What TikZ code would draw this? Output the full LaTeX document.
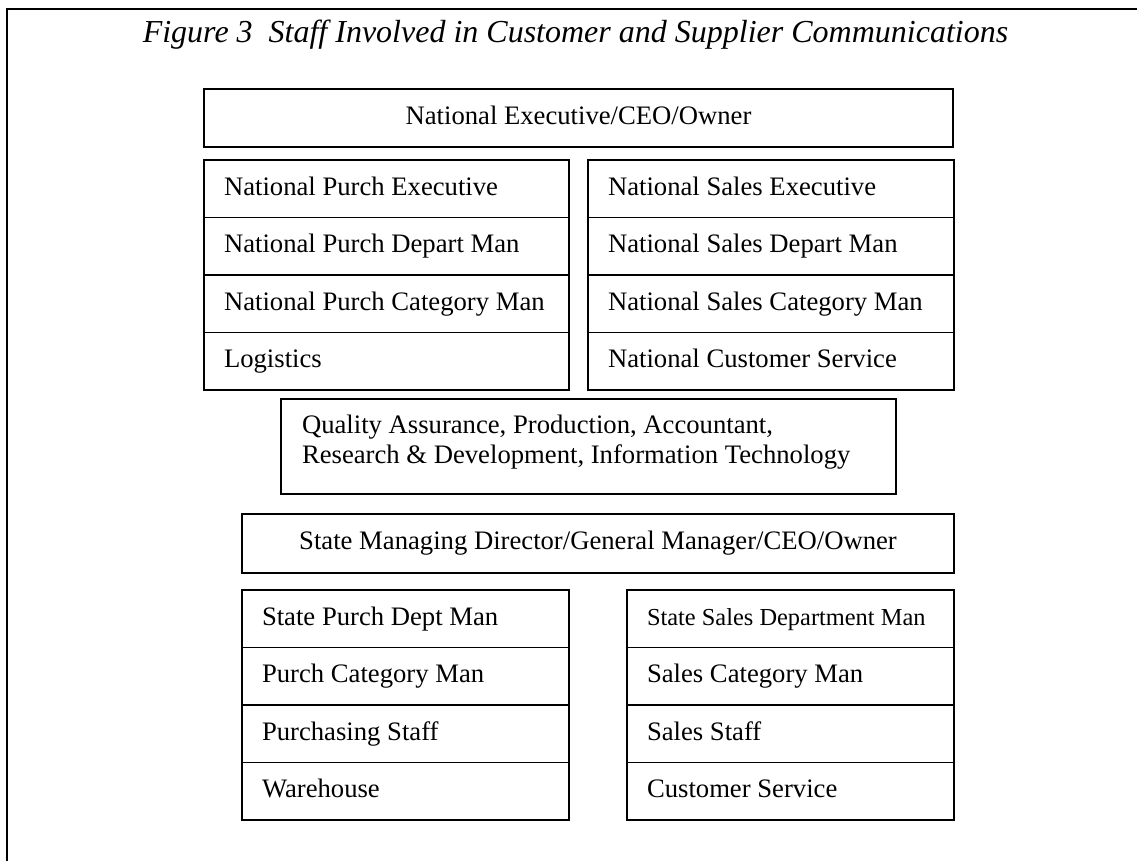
\documentclass[tikz,border=0pt]{standalone}
\usepackage{fontspec}
\setmainfont{Liberation Serif}
\usetikzlibrary{positioning}

\begin{document}
\begin{tikzpicture}[x=0.75pt, y=-0.75pt, line width=1pt, node distance=0pt,
  every node/.style={outer sep=0pt, font=\fontsize{20}{22.5}\selectfont},
  cell/.style={draw, rectangle, inner xsep=15pt, inner ysep=0pt, minimum height=43.125pt, text height=14.2pt, text depth=4.8pt, align=flush left},
  purchcell/.style={cell, text width=243.75pt},
  salescell/.style={cell, text width=244.5pt},
  statecell/.style={cell, text width=215.25pt},
  widebox/.style={draw, rectangle, inner sep=0pt, text height=14.2pt, text depth=4.8pt}]
\useasboundingbox (0,0) rectangle (1137,861);
\draw[line width=1.2pt] (1137,9) -- (7,9) -- (7,861);
\node (title) [anchor=base, font=\fontsize{24}{26}\selectfont\itshape] at (575.5,42) {Figure 3\ \ Staff Involved in Customer and Supplier Communications};
\node (natexec) [widebox, anchor=north west, minimum width=561.75pt, minimum height=43.5pt] at (204,89) {National Executive/CEO/Owner};
\node (npexec) [purchcell, anchor=north west] at (204,160) {National Purch Executive};
\node (npdept) [purchcell, below=of npexec] {National Purch Depart Man};
\node (npcat) [purchcell, below=of npdept] {National Purch Category Man};
\node (logist) [purchcell, below=of npcat] {Logistics};
\node (nsexec) [salescell, anchor=north west] at (588,160) {National Sales Executive};
\node (nsdept) [salescell, below=of nsexec] {National Sales Depart Man};
\node (nscat) [salescell, below=of nsdept] {National Sales Category Man};
\node (ncserv) [salescell, below=of nscat] {National Customer Service};
\node (support) [draw, rectangle, anchor=north west, inner xsep=15.75pt, inner ysep=11.3pt, text width=429.75pt, text height=14.2pt, text depth=34.45pt, align=flush left] at (281,399) {Quality Assurance, Production, Accountant,\\Research \& Development, Information Technology};
\node (statemd) [widebox, anchor=north west, minimum width=534pt, minimum height=44.25pt] at (242,514) {State Managing Director/General Manager/CEO/Owner};
\node (spdept) [statecell, anchor=north west] at (242,590) {State Purch Dept Man};
\node (spcat) [statecell, below=of spdept] {Purch Category Man};
\node (pstaff) [statecell, below=of spcat] {Purchasing Staff};
\node (whouse) [statecell, below=of pstaff] {Warehouse};
\node (ssdept) [statecell, anchor=north west, font=\fontsize{18.3}{20}\selectfont] at (627,590) {State Sales Department Man};
\node (sscat) [statecell, below=of ssdept] {Sales Category Man};
\node (sstaff) [statecell, below=of sscat] {Sales Staff};
\node (cserv) [statecell, below=of sstaff] {Customer Service};
\end{tikzpicture}
\end{document}
